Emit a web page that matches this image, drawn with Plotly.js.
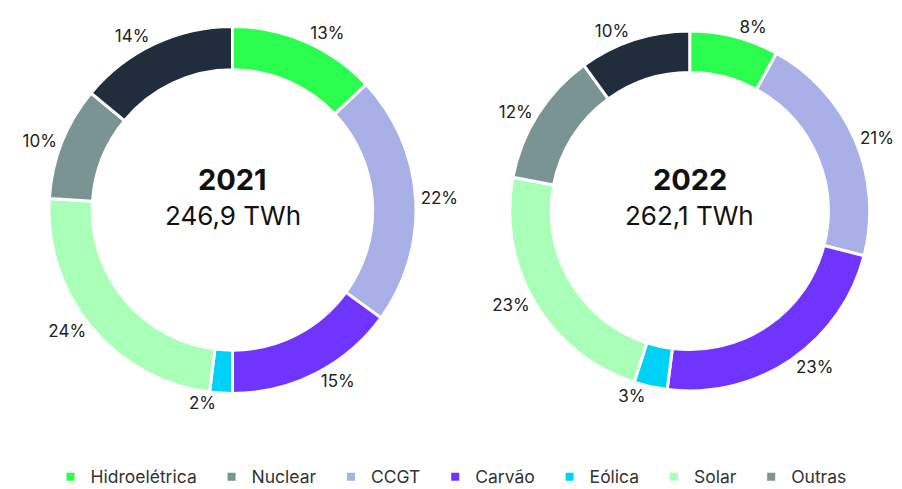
<!DOCTYPE html>
<html>
<head>
<meta charset="utf-8">
<script src="https://cdn.plot.ly/plotly-3.0.1.min.js"></script>
<style>html,body{margin:0;padding:0;background:#fff}#chart{width:902px;height:489px}</style>
</head>
<body>
<div id="chart"></div>
<script>
const labels = ['Hidroelétrica', 'Nuclear', 'CCGT', 'Carvão', 'Eólica', 'Solar', 'Outras'];
const values2021 = [13, 22, 15, 2, 24, 10, 14];
const values2022 = [8, 21, 23, 3, 23, 12, 10];
const sliceColors = ['#2bfd4f', '#a9b0e8', '#7034ff', '#00d2f7', '#a9ffb8', '#7a9494', '#212d3d'];
const legendColors = ['#2bfd4f', '#7a9494', '#a9b0e8', '#7034ff', '#00d2f7', '#a9ffb8', '#7a9494'];
const years = ['2021', '2022'];
const totals = ['246,9 TWh', '262,1 TWh'];

const FONT = 'Inter, "Noto Sans", sans-serif';

function pie(vals, dom, hole) {
  return {
    type: 'pie', labels: labels, values: vals, sort: false, direction: 'clockwise', rotation: 0,
    hole: hole, domain: dom, showlegend: false,
    marker: {colors: sliceColors, line: {color: '#ffffff', width: 3}},
    texttemplate: '%{value}%', textposition: 'outside',
    outsidetextfont: {family: FONT, size: 17, color: '#222'},
    hoverinfo: 'label+percent'
  };
}

const data = [
  pie(values2021, {x: [0.0543, 0.4612], y: [0.1953, 0.9458]}, 0.764),
  pie(values2022, {x: [0.5651, 0.9642], y: [0.2004, 0.9366]}, 0.77)
];
const PAD = '\u00a0\u00a0';
labels.forEach((l, i) => {
  data.push({type: 'scatter', mode: 'markers', x: [null], y: [null],
    name: i < labels.length - 1 ? l + PAD : l,
    marker: {symbol: 'square', size: 8, color: legendColors[i]}, showlegend: true, hoverinfo: 'skip'});
});

const annotations = [];
const cx = [0.2578, 0.7647];
years.forEach((y, i) => {
  annotations.push({x: cx[i], y: 0.632, xref: 'paper', yref: 'paper', xanchor: 'center', yanchor: 'middle',
    text: '<b>' + y + '</b>', showarrow: false,
    font: {family: FONT, size: 29, color: '#111'}});
  annotations.push({x: cx[i], y: 0.560, xref: 'paper', yref: 'paper', xanchor: 'center', yanchor: 'middle',
    text: totals[i], showarrow: false,
    font: {family: FONT, size: 26, color: '#111'}});
});

const layout = {
  width: 902, height: 489,
  margin: {l: 0, r: 0, t: 0, b: 0, autoexpand: false},
  paper_bgcolor: '#fff', plot_bgcolor: '#fff',
  xaxis: {visible: false}, yaxis: {visible: false},
  showlegend: true,
  legend: {orientation: 'h', x: 0.5, xanchor: 'center', y: 0.025, yanchor: 'middle',
    font: {family: FONT, size: 17.5, color: '#333'}, itemclick: false},
  annotations: annotations
};
Plotly.newPlot('chart', data, layout, {displayModeBar: false, staticPlot: true});
</script>
</body>
</html>
